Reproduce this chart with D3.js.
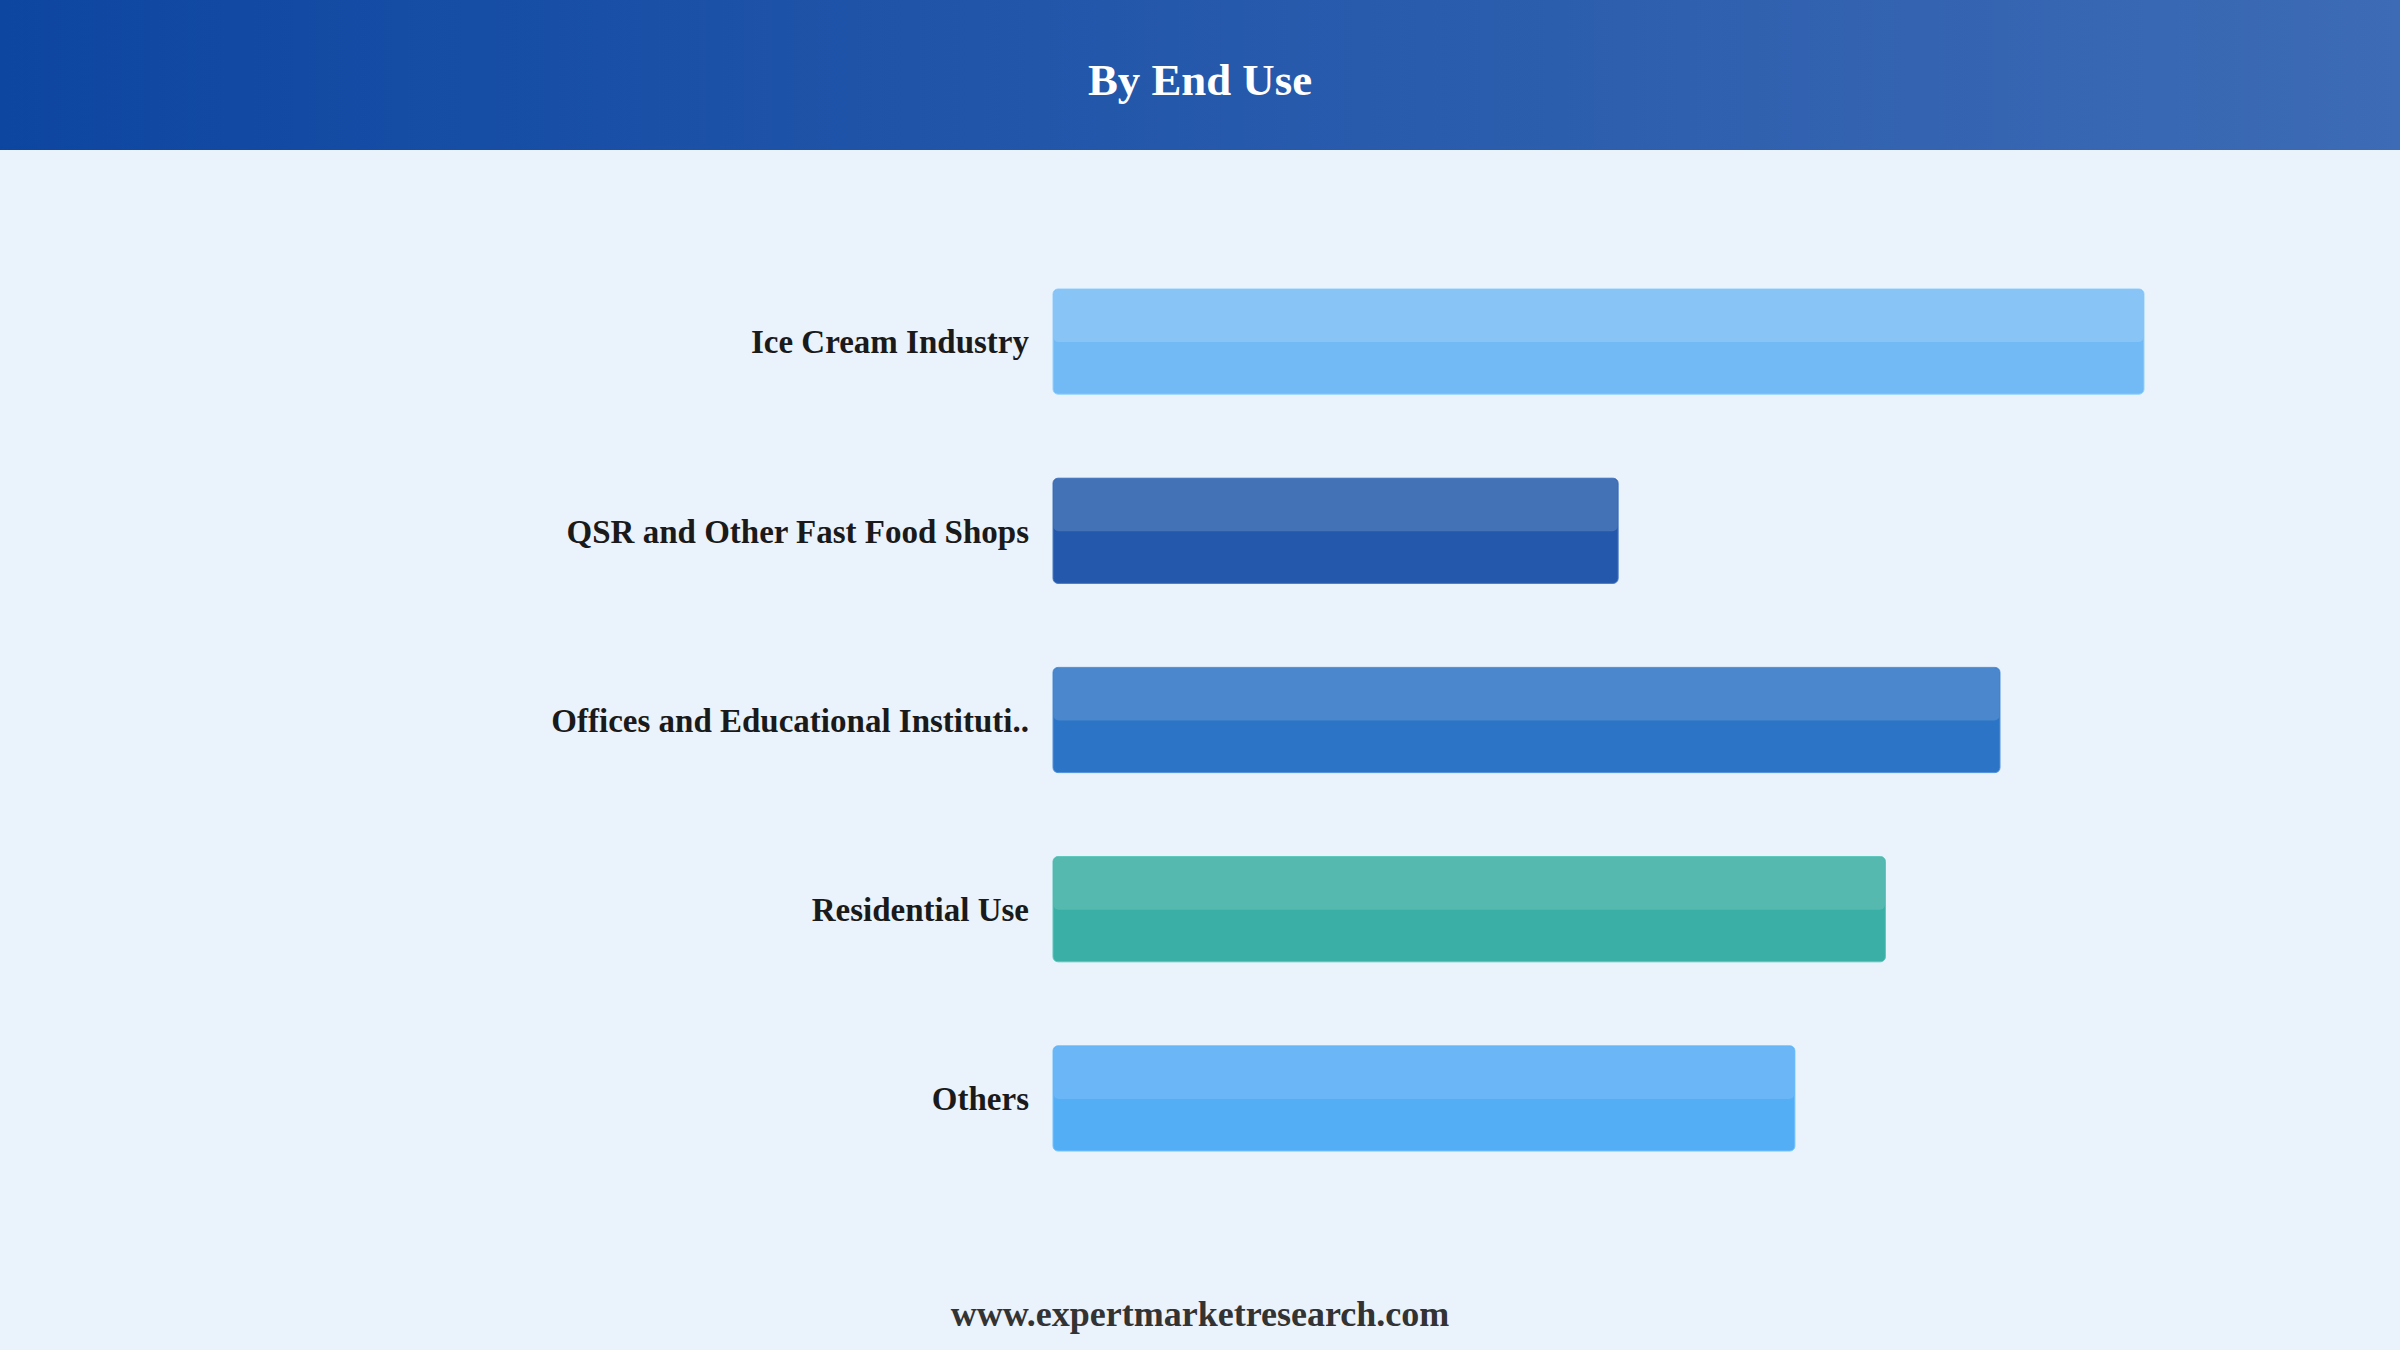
<!DOCTYPE html>
<html>
<head>
<meta charset="utf-8">
<script src="https://cdn.jsdelivr.net/npm/d3@7"></script>
<style>
  html, body { margin: 0; padding: 0; background: #EAF2FB; }
  svg { display: block; }
</style>
</head>
<body>
<svg id="chart" width="2400" height="1350"></svg>
<script>
const categories = [
  "Ice Cream Industry",
  "QSR and Other Fast Food Shops",
  "Offices and Educational Instituti..",
  "Residential Use",
  "Others"
];
const values = [100, 51.8, 86.8, 76.3, 68.0];
const baseColors = ["#71BAF5", "#2458AC", "#2B74C6", "#3AAFA6", "#53AEF5"];
const topColors  = ["#89C4F7", "#4472B6", "#4B87CC", "#56B9B0", "#6AB6F6"];
const titleText = "By End Use";
const footerText = "www.expertmarketresearch.com";

const W = 2400, H = 1350;
const svg = d3.select("#chart");

// background
svg.append("rect").attr("width", W).attr("height", H).attr("fill", "#EAF2FB");

// header gradient
const defs = svg.append("defs");
const grad = defs.append("linearGradient").attr("id", "hdr").attr("x1", "0%").attr("x2", "100%");
grad.append("stop").attr("offset", "0%").attr("stop-color", "#0D46A1");
grad.append("stop").attr("offset", "100%").attr("stop-color", "#3D6BB5");
svg.append("rect").attr("x", 0).attr("y", 0).attr("width", W).attr("height", 150).attr("fill", "url(#hdr)");

svg.append("text")
  .attr("x", W / 2).attr("y", 95)
  .attr("text-anchor", "middle")
  .attr("font-family", "'Liberation Serif', 'Times New Roman', serif")
  .attr("font-weight", "bold")
  .attr("font-size", 44.8)
  .attr("fill", "#ffffff")
  .text(titleText);

// scales
const x = d3.scaleLinear().domain([0, 100]).range([1053, 2144]);
const y = d3.scaleBand().domain(categories).range([247, 1193]).paddingInner(0.444).paddingOuter(0.222);

const data = categories.map((c, i) => ({ c, v: values[i], base: baseColors[i], top: topColors[i] }));

const g = svg.append("g");
const bars = g.selectAll("g.bar").data(data).join("g").attr("class", "bar");

bars.append("rect")
  .attr("x", x(0))
  .attr("y", d => y(d.c))
  .attr("width", d => x(d.v) - x(0))
  .attr("height", y.bandwidth())
  .attr("rx", 5).attr("ry", 5)
  .attr("fill", d => d.base)
  .attr("stroke", d => d3.color(d.top).brighter(0.2))
  .attr("stroke-width", 1);

bars.append("rect")
  .attr("x", x(0) + 0.5)
  .attr("y", d => y(d.c) + 0.5)
  .attr("width", d => x(d.v) - x(0) - 1)
  .attr("height", y.bandwidth() / 2)
  .attr("rx", 5).attr("ry", 5)
  .attr("fill", d => d.top);

// category labels via axis
const axis = d3.axisLeft(y).tickSize(0).tickPadding(0);
const ax = svg.append("g").attr("transform", `translate(1029,0)`).call(axis);
ax.select(".domain").remove();
ax.selectAll("text")
  .attr("font-family", "'Liberation Serif', 'Times New Roman', serif")
  .attr("font-weight", "bold")
  .attr("font-size", 33)
  .attr("fill", "#1a1a1a")
  .attr("dy", "0.36em");

// footer
svg.append("text")
  .attr("x", W / 2).attr("y", 1326)
  .attr("text-anchor", "middle")
  .attr("font-family", "'Liberation Serif', 'Times New Roman', serif")
  .attr("font-weight", "bold")
  .attr("font-size", 36)
  .attr("fill", "#333333")
  .text(footerText);
</script>
</body>
</html>
